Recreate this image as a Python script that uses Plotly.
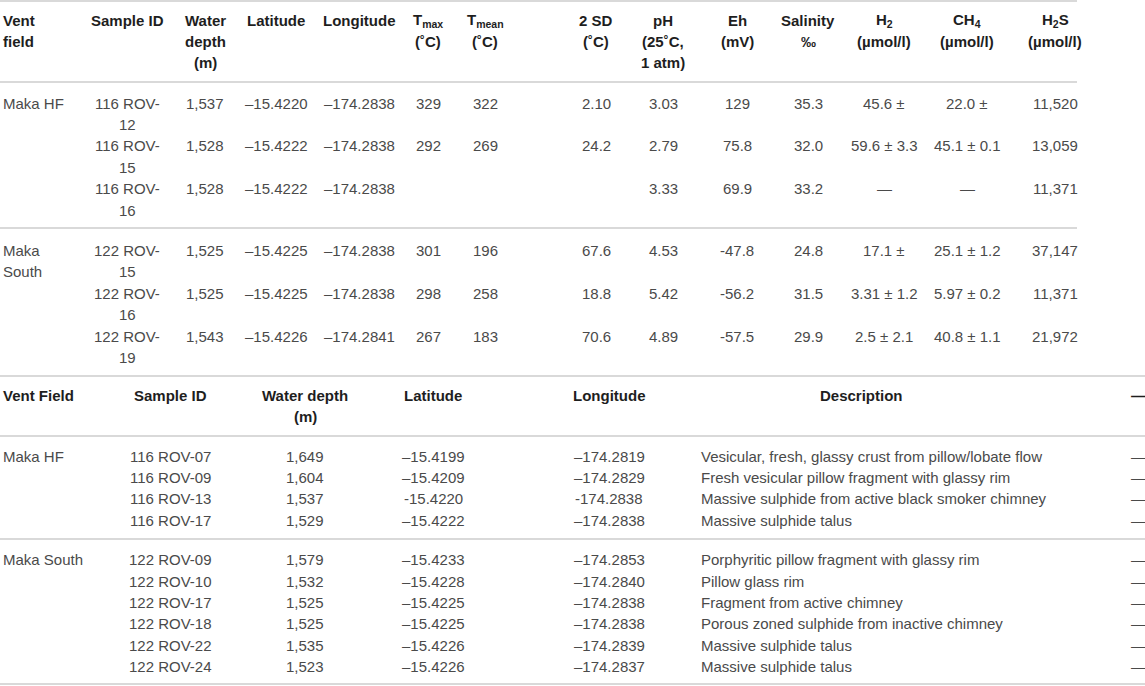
import plotly.graph_objects as go

# ---- table 1: vent fluid data ----
t1_headers = ["Vent<br>field", "Sample ID", "Water<br>depth<br>(m)", "Latitude", "Longitude",
              "T<sub>max</sub><br>(˚C)", "T<sub>mean</sub><br>(˚C)", "2 SD<br>(˚C)",
              "pH<br>(25˚C,<br>1 atm)", "Eh<br>(mV)", "Salinity<br>‰",
              "H<sub>2</sub><br>(µmol/l)", "CH<sub>4</sub><br>(µmol/l)", "H<sub>2</sub>S<br>(µmol/l)"]
t1_field = ["Maka HF", "Maka HF", "Maka HF", "Maka South", "Maka South", "Maka South"]
t1_sample = ["116 ROV-12", "116 ROV-15", "116 ROV-16", "122 ROV-15", "122 ROV-16", "122 ROV-19"]
t1_depth = ["1,537", "1,528", "1,528", "1,525", "1,525", "1,543"]
t1_lat = ["–15.4220", "–15.4222", "–15.4222", "–15.4225", "–15.4225", "–15.4226"]
t1_lon = ["–174.2838", "–174.2838", "–174.2838", "–174.2838", "–174.2838", "–174.2841"]
t1_tmax = ["329", "292", "", "301", "298", "267"]
t1_tmean = ["322", "269", "", "196", "258", "183"]
t1_sd = ["2.10", "24.2", "", "67.6", "18.8", "70.6"]
t1_ph = ["3.03", "2.79", "3.33", "4.53", "5.42", "4.89"]
t1_eh = ["129", "75.8", "69.9", "-47.8", "-56.2", "-57.5"]
t1_sal = ["35.3", "32.0", "33.2", "24.8", "31.5", "29.9"]
t1_h2 = ["45.6 ±", "59.6 ± 3.3", "—", "17.1 ±", "3.31 ± 1.2", "2.5 ± 2.1"]
t1_ch4 = ["22.0 ±", "45.1 ± 0.1", "—", "25.1 ± 1.2", "5.97 ± 0.2", "40.8 ± 1.1"]
t1_h2s = ["11,520", "13,059", "11,371", "37,147", "11,371", "21,972"]

# ---- table 2: rock samples ----
t2_headers = ["Vent Field", "Sample ID", "Water depth<br>(m)", "Latitude", "Longitude", "Description", "—"]
t2_field = ["Maka HF"] * 4 + ["Maka South"] * 6
t2_sample = ["116 ROV-07", "116 ROV-09", "116 ROV-13", "116 ROV-17",
             "122 ROV-09", "122 ROV-10", "122 ROV-17", "122 ROV-18", "122 ROV-22", "122 ROV-24"]
t2_depth = ["1,649", "1,604", "1,537", "1,529", "1,579", "1,532", "1,525", "1,525", "1,535", "1,523"]
t2_lat = ["–15.4199", "–15.4209", "-15.4220", "–15.4222", "–15.4233",
          "–15.4228", "–15.4225", "–15.4225", "–15.4226", "–15.4226"]
t2_lon = ["–174.2819", "–174.2829", "-174.2838", "–174.2838", "–174.2853",
          "–174.2840", "–174.2838", "–174.2838", "–174.2839", "–174.2837"]
t2_desc = ["Vesicular, fresh, glassy crust from pillow/lobate flow",
           "Fresh vesicular pillow fragment with glassy rim",
           "Massive sulphide from active black smoker chimney",
           "Massive sulphide talus",
           "Porphyritic pillow fragment with glassy rim",
           "Pillow glass rim",
           "Fragment from active chimney",
           "Porous zoned sulphide from inactive chimney",
           "Massive sulphide talus",
           "Massive sulphide talus"]
t2_extra = ["—"] * 10

FONT = "Liberation Sans, Arial, sans-serif"
SIZE = 15
BODY = "#4a4a4a"
HEAD = "#1e1e1e"
RULE = "#d9d9d9"
LINE_H = 21.4
W, H = 1145, 686


def wrap(s, width):
    # narrow columns break after a hyphen or at a space
    if len(s) <= width:
        return [s]
    cuts = [i for i, c in enumerate(s) if c in " -" and i < width]
    if not cuts:
        return [s]
    i = max(cuts)
    if s[i] == "-":
        return [s[:i + 1], s[i + 1:]]
    return [s[:i], s[i + 1:]]


fig = go.Figure()
fig.add_trace(go.Scatter(x=[0, W], y=[0, H], mode="markers", marker=dict(opacity=0), hoverinfo="skip"))


def cell(x, y, text, anchor="center", bold=False):
    if text == "":
        return
    fig.add_annotation(x=x, y=y, xref="x", yref="y", text=f"<b>{text}</b>" if bold else text,
                       showarrow=False, xanchor=anchor, yanchor="middle",
                       font=dict(family=FONT, size=SIZE, color=HEAD if bold else BODY))


def rule(y, x1):
    fig.add_shape(type="line", xref="x", yref="y", x0=0, x1=x1, y0=y, y1=y,
                  line=dict(color=RULE, width=2))


def group_rows(fields, first_y, pitch, gap):
    ys, y, prev = [], first_y, None
    for f in fields:
        if prev is not None and f != prev:
            y += gap
        ys.append(y)
        y += pitch
        prev = f
    return ys


# table 1 layout
t1_x = [1, 127, 205, 276, 359, 428, 485, 596, 663, 737, 808, 884, 967, 1055]
t1_anchor = ["left"] + ["center"] * 13
t1_cols = [t1_field, t1_sample, t1_depth, t1_lat, t1_lon, t1_tmax, t1_tmean,
           t1_sd, t1_ph, t1_eh, t1_sal, t1_h2, t1_ch4, t1_h2s]
t1_wrap = {0: 8, 1: 8}
t1_right = 1077

for x, a, h in zip(t1_x, t1_anchor, t1_headers):
    for k, part in enumerate(h.split("<br>")):
        cell(x, 20 + k * LINE_H, part, a, bold=True)

t1_y = group_rows(t1_field, 103, 2 * LINE_H, 19)
for c, (x, a, col) in enumerate(zip(t1_x, t1_anchor, t1_cols)):
    for r, (y, v) in enumerate(zip(t1_y, col)):
        if c == 0 and r > 0 and t1_field[r - 1] == v:
            continue
        parts = wrap(v, t1_wrap[c]) if c in t1_wrap else [v]
        for k, part in enumerate(parts):
            cell(x, y + k * LINE_H, part, a)

rule(1, t1_right)
rule(82, t1_right)
rule(228, t1_right)

# table 2 layout
t2_x = [1, 170, 305, 433, 609, 699, 1138]
t2_head_x = [1, 170, 305, 433, 609, 861, 1138]
t2_anchor = ["left", "center", "center", "center", "center", "left", "center"]
t2_head_anchor = ["left", "center", "center", "center", "center", "center", "center"]
t2_cols = [t2_field, t2_sample, t2_depth, t2_lat, t2_lon, t2_desc, t2_extra]

for x, a, h in zip(t2_head_x, t2_head_anchor, t2_headers):
    for k, part in enumerate(h.split("<br>")):
        cell(x, 395 + k * LINE_H, part, a, bold=True)

t2_y = group_rows(t2_field, 456, LINE_H, 18)
for c, (x, a, col) in enumerate(zip(t2_x, t2_anchor, t2_cols)):
    for r, (y, v) in enumerate(zip(t2_y, col)):
        if c == 0 and r > 0 and t2_field[r - 1] == v:
            continue
        cell(x, y, v, a)

rule(376, W)
rule(436, W)
rule(539, W)
rule(684, W)

fig.update_layout(width=W, height=H, margin=dict(l=0, r=0, t=0, b=0),
                  paper_bgcolor="white", plot_bgcolor="white", showlegend=False,
                  xaxis=dict(range=[0, W], visible=False),
                  yaxis=dict(range=[H, 0], visible=False))

fig.write_html("out.html", config={"displayModeBar": False},
               post_script="document.body.style.margin='0';")
